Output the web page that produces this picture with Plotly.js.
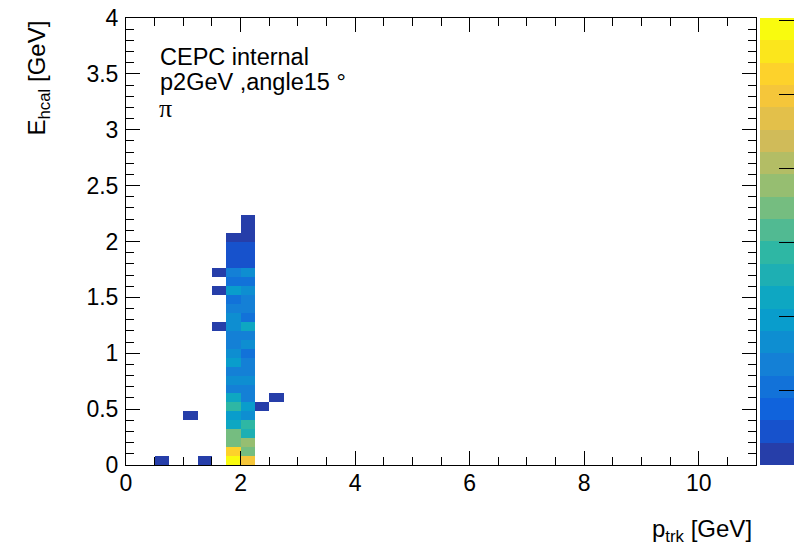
<!DOCTYPE html>
<html><head><meta charset="utf-8">
<script src="https://cdn.plot.ly/plotly-3.0.1.min.js"></script>
<style>html,body{margin:0;padding:0;background:#fff}#chart{width:794px;height:547px}</style>
</head><body><div id="chart"></div>
<script>
// Histogram binning
const xBinWidth = 0.25, nX = 44;   // p_trk bins, 0..11 GeV
const yBinWidth = 0.08, nY = 50;   // E_hcal bins, 0..4 GeV
// Counts per E_hcal bin (from 0 upwards) in p_trk bin 1.75-2.00 GeV
const colA = [29,26,17,17,11,10,14,11,7,8,7,10,8,7,7,8,8,7,5,10,5,7,2,2,2,1];
// Counts per E_hcal bin (from 0 upwards) in p_trk bin 2.00-2.25 GeV
const colB = [25,17,19,13,14,8,10,7,7,8,7,7,5,8,7,11,5,7,7,8,5,8,2,2,2,1,1,1];
const colAx = 1.875, colBx = 2.125;
// Isolated entries (bin centres and counts)
const isoX = [0.625,1.375,1.125,1.625,1.625,1.625,2.375,2.625];
const isoY = [0.04,0.04,0.44,1.24,1.56,1.72,0.52,0.60];
const isoZ = [1,1,1,1,1,1,1,1];
const zMax = 30.2;

// Build the 2D grid (null = empty bin)
const z = [];
for (let k = 0; k < nY; k++) { z.push(new Array(nX).fill(null)); }
function fill(x, y, v) {
  const j = Math.round((x - xBinWidth/2) / xBinWidth);
  const k = Math.round((y - yBinWidth/2) / yBinWidth);
  z[k][j] = v;
}
colA.forEach((v, k) => fill(colAx, (k + 0.5) * yBinWidth, v));
colB.forEach((v, k) => fill(colBx, (k + 0.5) * yBinWidth, v));
isoX.forEach((x, i) => fill(x, isoY[i], isoZ[i]));

// ROOT kBird palette, 20 contour levels
const birdR = [0.2082,0.0592,0.0780,0.0232,0.1802,0.5301,0.8186,0.9956,0.9764];
const birdG = [0.1664,0.3599,0.5041,0.6419,0.7178,0.7492,0.7328,0.7862,0.9832];
const birdB = [0.5293,0.8684,0.8385,0.7914,0.6425,0.4662,0.3499,0.1968,0.0539];
function bird(t) {
  const s = Math.min(t, 1) * 8; let i = Math.floor(s); if (i > 7) i = 7; const f = s - i;
  const c = a => Math.round(255 * (a[i] + (a[i+1] - a[i]) * f));
  return 'rgb(' + c(birdR) + ',' + c(birdG) + ',' + c(birdB) + ')';
}
const nLev = 20, cs = [];
for (let i = 0; i < nLev; i++) {
  const col = bird((i + 0.99) / nLev);
  cs.push([i / nLev, col]); cs.push([(i + 1) / nLev, col]);
}

const font = 'Liberation Sans, Arial, Helvetica, sans-serif';
const trace = {
  type: 'heatmap', z: z, x0: xBinWidth/2, dx: xBinWidth, y0: yBinWidth/2, dy: yBinWidth,
  zmin: 0, zmax: zMax, colorscale: cs, hoverongaps: false,
  colorbar: {
    x: (760 - 126) / 630, xanchor: 'left', xpad: 0, ypad: 0, y: 0.5, yanchor: 'middle',
    len: 1, lenmode: 'fraction', thickness: 36, thicknessmode: 'pixels', outlinewidth: 0,
    tick0: 0, dtick: 5, ticks: 'inside', ticklen: 17, tickcolor: '#000', showticklabels: false
  }
};
const axisBase = {
  ticks: 'inside', tickcolor: '#000', tickwidth: 1, ticklen: 14,
  showline: true, linecolor: '#000', linewidth: 1, mirror: 'allticks',
  showgrid: false, zeroline: false,
  tickfont: {family: font, size: 23, color: '#000'}
};
const layout = {
  width: 794, height: 547, margin: {l: 126, r: 38, t: 18, b: 82, autoexpand: false},
  paper_bgcolor: '#fff', plot_bgcolor: '#fff', showlegend: false,
  xaxis: Object.assign({}, axisBase, {range: [0, 11], tick0: 0, dtick: 2, automargin: false,
    ticklabelstandoff: -3,
    minor: {dtick: 0.5, ticklen: 8, tickcolor: '#000', ticks: 'inside', showgrid: false}}),
  yaxis: Object.assign({}, axisBase, {range: [0, 4], tick0: 0, dtick: 0.5, automargin: false,
    ticklabelstandoff: 2,
    minor: {dtick: 0.1, ticklen: 8, tickcolor: '#000', ticks: 'inside', showgrid: false}}),
  annotations: [
    {text: 'E<sub>hcal</sub> [GeV]', textangle: -90, xref: 'paper', yref: 'paper',
     x: (38 - 126) / 630, y: (465 - 19) / 447, xanchor: 'center', yanchor: 'top', showarrow: false,
     font: {family: font, size: 24, color: '#000'}},
    {text: 'p<sub>trk</sub> [GeV]', xref: 'paper', yref: 'paper',
     x: (754 - 126) / 630, y: (465 - 530) / 447, xanchor: 'right', yanchor: 'middle', showarrow: false,
     font: {family: font, size: 24, color: '#000'}},
    {text: 'CEPC internal', xref: 'paper', yref: 'paper', x: (158 - 126) / 630, y: (465 - 57) / 447,
     xanchor: 'left', yanchor: 'middle', showarrow: false, font: {family: font, size: 23.5, color: '#000'}},
    {text: 'p2GeV ,angle15 °', xref: 'paper', yref: 'paper', x: (158 - 126) / 630, y: (465 - 82) / 447,
     xanchor: 'left', yanchor: 'middle', showarrow: false, font: {family: font, size: 23.5, color: '#000'}},
    {text: 'π', xref: 'paper', yref: 'paper', x: (157 - 126) / 630, y: (465 - 108) / 447,
     xanchor: 'left', yanchor: 'middle', showarrow: false, font: {family: 'Liberation Serif, serif', size: 26, color: '#000'}}
  ]
};
Plotly.newPlot('chart', [trace], layout, {staticPlot: true, displayModeBar: false});
</script></body></html>
